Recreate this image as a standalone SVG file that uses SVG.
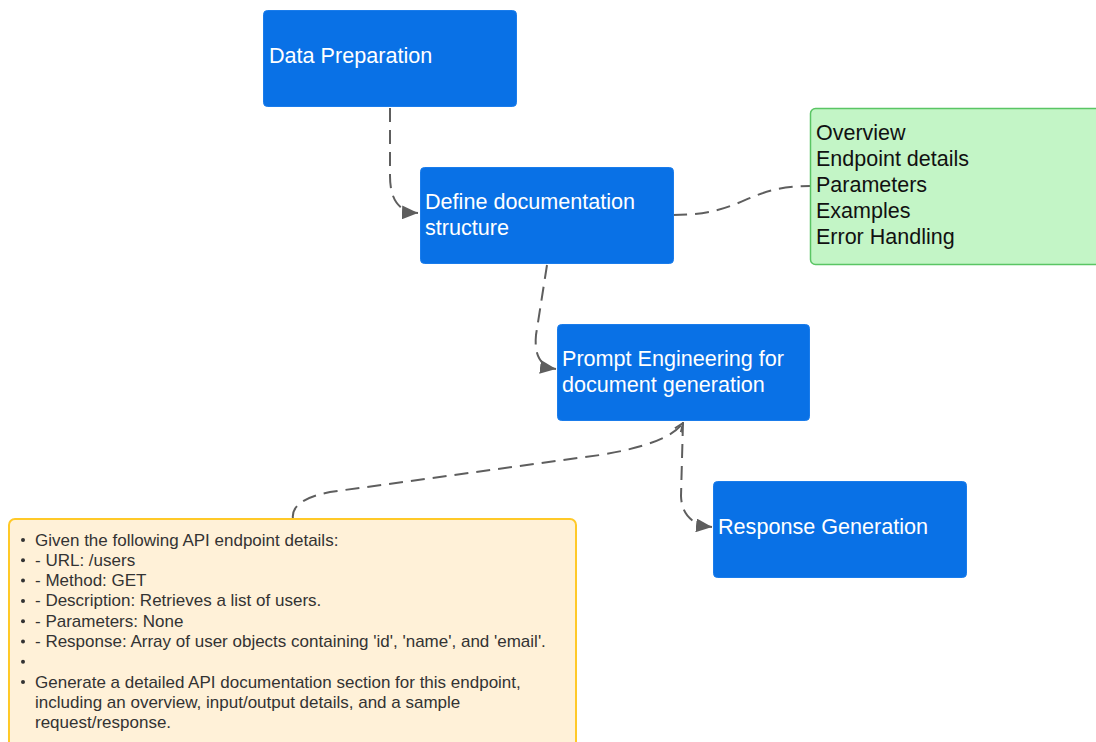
<svg xmlns="http://www.w3.org/2000/svg" width="1096" height="742" viewBox="0 0 1096 742">
<style>
.blue{fill:#0971e6;stroke:#1a7ceb;stroke-width:1}
.bt{font-family:"Liberation Sans",Arial,sans-serif;font-size:21.6px;fill:#ffffff}
.gt{font-family:"Liberation Sans",Arial,sans-serif;font-size:21.5px;fill:#111111}
.yt{font-family:"Liberation Sans",Arial,sans-serif;font-size:17px;fill:#333333}
.conn{fill:none;stroke:#5e5e5e;stroke-width:2;stroke-dasharray:14 8}
</style>
<defs>
<marker id="arr" viewBox="0 0 16 14" refX="16" refY="7" markerWidth="16" markerHeight="14" markerUnits="userSpaceOnUse" orient="auto">
<path d="M0,0 L16,7 L0,14 Z" fill="#5e5e5e"/>
</marker>
<marker id="arrs" viewBox="0 0 10 10" refX="10" refY="5" markerWidth="9" markerHeight="9" markerUnits="userSpaceOnUse" orient="auto">
<path d="M0,1 L10,5 L0,9" fill="none" stroke="#5e5e5e" stroke-width="2"/>
</marker>
</defs>
<rect width="1096" height="742" fill="#ffffff"/>
<g id="connectors">
<path class="conn" d="M390,108 L390,176 Q390,212 418,213" marker-end="url(#arr)"/>
<path class="conn" d="M673,215 C745,215 745,186 810,186"/>
<path class="conn" d="M547,265 L536,335 Q533,366 556,369" marker-end="url(#arr)"/>
<path class="conn" d="M293,519 Q290,500 330,492 L600,455 Q668,444 683,423" marker-end="url(#arrs)"/>
<path class="conn" d="M683,422 L681,496 Q682,524 712,527" marker-end="url(#arr)"/>
</g>
<g id="data-preparation">
<rect class="blue" x="263.5" y="10.5" width="253" height="96" rx="4"/>
<text class="bt" x="269" y="62.5">Data Preparation</text>
</g>
<g id="define-structure">
<rect class="blue" x="420.5" y="167.5" width="253" height="96" rx="4"/>
<text class="bt" x="425" y="208.5">Define documentation</text>
<text class="bt" x="425" y="234.5">structure</text>
</g>
<g id="structure-list">
<rect x="810.5" y="108.5" width="300" height="156" rx="5" fill="#c3f5c6" stroke="#5ac564" stroke-width="1.5"/>
<text class="gt" x="816" y="139.5">Overview</text>
<text class="gt" x="816" y="165.5">Endpoint details</text>
<text class="gt" x="816" y="191.5">Parameters</text>
<text class="gt" x="816" y="217.5">Examples</text>
<text class="gt" x="816" y="243.5">Error Handling</text>
</g>
<g id="prompt-engineering">
<rect class="blue" x="557.5" y="324.5" width="252" height="96" rx="4"/>
<text class="bt" x="562" y="365.5">Prompt Engineering for</text>
<text class="bt" x="562" y="391.5">document generation</text>
</g>
<g id="response-generation">
<rect class="blue" x="713.5" y="481.5" width="253" height="96" rx="4"/>
<text class="bt" x="718" y="533.5">Response Generation</text>
</g>
<g id="prompt-note">
<rect x="9" y="519" width="567" height="240" rx="6" fill="#fff1d8" stroke="#ffc928" stroke-width="2"/>
<g fill="#333333">
<circle cx="23" cy="540" r="2"/>
<circle cx="23" cy="560.3" r="2"/>
<circle cx="23" cy="580.6" r="2"/>
<circle cx="23" cy="600.9" r="2"/>
<circle cx="23" cy="621.2" r="2"/>
<circle cx="23" cy="641.5" r="2"/>
<circle cx="23" cy="661.8" r="2"/>
<circle cx="23" cy="682.1" r="2"/>
</g>
<text class="yt" x="35" y="545.5">Given the following API endpoint details:</text>
<text class="yt" x="35" y="565.8">- URL: /users</text>
<text class="yt" x="35" y="586.1">- Method: GET</text>
<text class="yt" x="35" y="606.4">- Description: Retrieves a list of users.</text>
<text class="yt" x="35" y="626.7">- Parameters: None</text>
<text class="yt" x="35" y="647">- Response: Array of user objects containing 'id', 'name', and 'email'.</text>
<text class="yt" x="35" y="687.6">Generate a detailed API documentation section for this endpoint,</text>
<text class="yt" x="35" y="707.9">including an overview, input/output details, and a sample</text>
<text class="yt" x="35" y="728.2">request/response.</text>
</g>
</svg>
